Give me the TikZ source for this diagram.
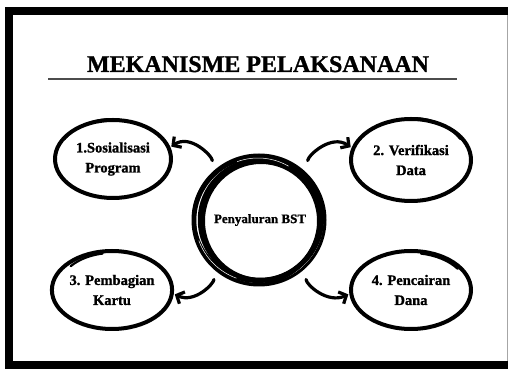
\documentclass[tikz,border=0pt]{standalone}
\usepackage{fontspec}
\setmainfont{Liberation Serif}[BoldFeatures={FakeBold=1.2}]
\usetikzlibrary{shapes.geometric,arrows.meta,calc}
\tikzset{
  stepell/.style={ellipse, draw, line width=4pt, minimum width=116pt, minimum height=78pt,
    outer sep=3pt, inner sep=0pt, align=center, font=\bfseries\fontsize{14.5}{20}\selectfont},
  scrib/.style={line width=2.2pt, line cap=round},
  arr/.style={line width=3.2pt, line cap=round, -{Straight Barb[length=6pt,width=13pt]}},
  hub/.style={circle, draw, line width=4.5pt, minimum size=120pt, outer sep=2pt,
    font=\bfseries\fontsize{13}{16}\selectfont}
}
\begin{document}
\begin{tikzpicture}[x=1pt,y=1pt]
\useasboundingbox (0,0) rectangle (508,369);
% frame
\fill[black] (5,0) rectangle (13,362);
\fill[black] (5,354) rectangle (508,362);
\fill[black] (5,0) rectangle (508,8);
\draw[black!35, line width=1pt] (507,8) -- (507,354);
% title
\node[font=\bfseries\fontsize{24}{28}\selectfont, anchor=base, inner sep=0pt] (title) at (258,297) {MEKANISME PELAKSANAAN};
\draw[black!70, line width=1.6pt] (48,290) -- (457,290);
% hub
\node[hub] (c) at (260,149) {Penyaluran BST};
\draw[line width=4pt] ([shift={(-2,1)}]c.center) circle[x radius=64, y radius=62];
\draw[line width=4pt] ([shift={(1,-1)}]c.center) circle[x radius=58, y radius=59];
\draw[line width=3pt] ([shift={(-1,0)}]c.center) circle[x radius=66, y radius=65];
\draw[line width=2.5pt] ([shift={(-3,-1)}]c.center) circle[x radius=62, y radius=63];
\draw[white, line width=0.5pt] ([shift={(-2,1)}]c.center) ++(110:61) arc[start angle=110, end angle=60, radius=61];
\draw[white, line width=0.5pt] ([shift={(-2,1)}]c.center) ++(200:63) arc[start angle=200, end angle=250, radius=63];
% step ellipses
\node[stepell] (s1) at (113,210) {1.Sosialisasi\\Program};
\node[stepell, minimum width=120pt, minimum height=82pt] (s2) at (411,209) {2. Verifikasi\\Data};
\node[stepell] (s3) at (112,79) {3. Pembagian\\Kartu};
\node[stepell, minimum width=120pt] (s4) at (411,79) {4. Pencairan\\Dana};
% extra hand-drawn strokes
\draw[scrib] ([shift={(95:56 and 40)}]s1.center) arc[start angle=95, end angle=150, x radius=56, y radius=40];
\draw[scrib] ([shift={(30:57 and 42)}]s2.center) arc[start angle=30, end angle=85, x radius=57, y radius=42];
\draw[scrib] ([shift={(100:54 and 37)}]s3.center) arc[start angle=100, end angle=140, x radius=54, y radius=37];
\draw[scrib] ([shift={(35:57 and 37)}]s4.center) arc[start angle=35, end angle=80, x radius=57, y radius=37];
% arrows
\draw[arr, shorten <=18pt] (c.138) to[out=95, in=35, looseness=1.1] (s1.12);
\draw[arr, shorten <=18pt] (c.42) to[out=85, in=145, looseness=1.1] (s2.168);
\draw[arr, shorten <=18pt] (c.222) to[out=-90, in=-25, looseness=1.1] (s3.356);
\draw[arr, shorten <=18pt] (c.318) to[out=-90, in=205, looseness=1.1] (s4.184);
\end{tikzpicture}
\end{document}
